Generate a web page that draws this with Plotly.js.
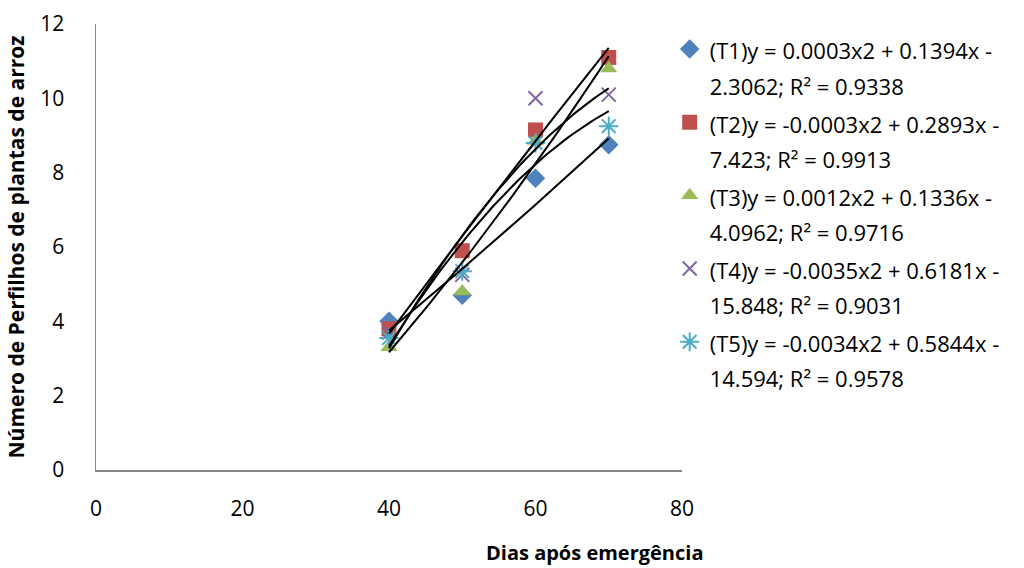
<!DOCTYPE html>
<html>
<head>
<meta charset="utf-8">
<script src="https://cdn.plot.ly/plotly-3.0.1.min.js"></script>
<style>html,body{margin:0;padding:0;background:#fff;}#chart{width:1024px;height:568px;}</style>
</head>
<body>
<div id="chart"></div>
<script>
// Days after emergence
const days = [40, 50, 60, 70];
// Tiller counts per treatment
const t1 = [4.0, 4.7, 7.85, 8.75];
const t2 = [3.8, 5.9, 9.15, 11.1];
const t3 = [3.3, 4.8, 8.85, 10.8];
const t4 = [3.7, 5.25, 10.0, 10.1];
const t5 = [3.55, 5.35, 8.8, 9.25];
// Trendline coefficients [a, b, c] for y = a x^2 + b x + c (from legend)
const coefT1 = [0.0003, 0.1394, -2.3062];
const coefT2 = [-0.0003, 0.2893, -7.423];
const coefT3 = [0.0012, 0.1336, -4.0962];
const coefT4 = [-0.0035, 0.6181, -15.848];
const coefT5 = [-0.0034, 0.5844, -14.594];
const legendLines = [
  ["(T1)y = 0.0003x2 + 0.1394x -", "2.3062; R² = 0.9338"],
  ["(T2)y = -0.0003x2 + 0.2893x -", "7.423; R² = 0.9913"],
  ["(T3)y = 0.0012x2 + 0.1336x -", "4.0962; R² = 0.9716"],
  ["(T4)y = -0.0035x2 + 0.6181x -", "15.848; R² = 0.9031"],
  ["(T5)y = -0.0034x2 + 0.5844x -", "14.594; R² = 0.9578"]
];
const colors = ["#4F81BD", "#C0504D", "#9BBB59", "#8064A2", "#4BACC6"];

const series = [t1, t2, t3, t4, t5];
const coefs = [coefT1, coefT2, coefT3, coefT4, coefT5];
const markerDefs = [
  {symbol: "diamond", size: 15},
  {symbol: "square", size: 15},
  {symbol: "triangle-up", size: 15},
  {symbol: "x-thin-open", size: 14, line: {width: 2}},
  {symbol: "asterisk-open", size: 16, line: {width: 2}}
];

const TXT = "font-size:22px";
const traces = [];
series.forEach((ys, i) => {
  const m = Object.assign({color: colors[i]}, markerDefs[i]);
  if (m.line) m.line = Object.assign({color: colors[i]}, m.line);
  traces.push({
    type: "scatter", mode: "markers", x: days, y: ys,
    name: '<span style="' + TXT + '">' + legendLines[i][0] + '</span><br><span style="' + TXT + '">' + legendLines[i][1] + '</span>',
    marker: m, legendgroup: "g" + i, showlegend: true
  });
});
// polynomial trendlines, evaluated on the fitted range
const xs = [];
for (let x = days[0]; x <= days[days.length - 1]; x += 0.5) xs.push(x);
coefs.forEach((c) => {
  traces.push({
    type: "scatter", mode: "lines", x: xs,
    y: xs.map(x => c[0] * x * x + c[1] * x + c[2]),
    line: {color: "#000", width: 2}, showlegend: false, hoverinfo: "skip"
  });
});

const layout = {
  width: 1024, height: 568,
  margin: {l: 96, r: 342, t: 24, b: 98},
  paper_bgcolor: "#fff", plot_bgcolor: "#fff",
  font: {family: "Open Sans, sans-serif", size: 21, color: "#000"},
  xaxis: {
    range: [0, 80], tickvals: [0, 20, 40, 60, 80], showgrid: false, zeroline: false,
    showline: true, linecolor: "#868686", linewidth: 1.5, ticks: "",
    ticklabelstandoff: 19, tickfont: {size: 21}
  },
  yaxis: {
    range: [0, 12], tickvals: [0, 2, 4, 6, 8, 10, 12], showgrid: false, zeroline: false,
    showline: true, linecolor: "#868686", linewidth: 1.5, ticks: "",
    ticklabelstandoff: 26, tickfont: {size: 21},
    title: {text: "Número de Perfilhos de plantas de arroz", font: {size: 21, weight: "bold"}, standoff: 10}
  },
  showlegend: true,
  legend: {
    x: 0.979, xanchor: "left", y: 0.998, yanchor: "top",
    font: {size: 27, color: "#000"}, valign: "top",
    bgcolor: "rgba(0,0,0,0)", tracegroupgap: 0, itemclick: false
  },
  annotations: [{
    text: "<b>Dias após emergência</b>", xref: "paper", yref: "paper",
    x: 0.85, y: -0.185, xanchor: "center", yanchor: "middle",
    showarrow: false, font: {size: 20, color: "#000"}
  }]
};
Plotly.newPlot("chart", traces, layout, {staticPlot: true});
</script>
</body>
</html>
